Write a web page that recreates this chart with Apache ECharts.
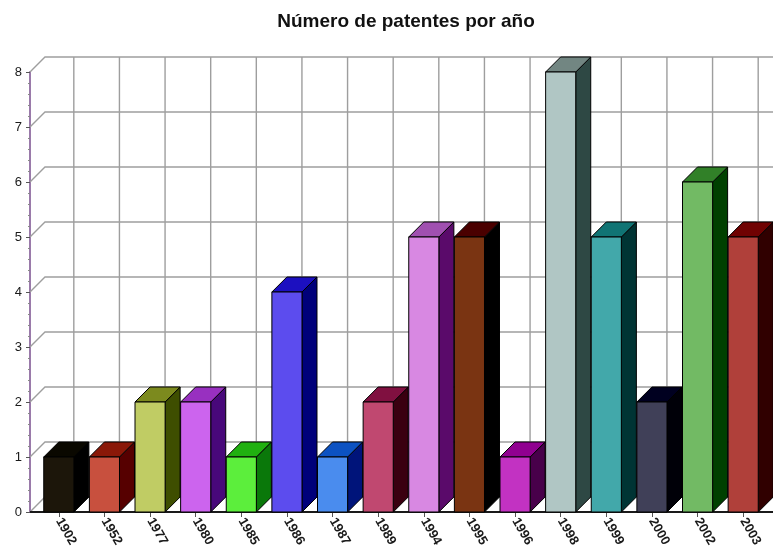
<!DOCTYPE html>
<html>
<head>
<meta charset="utf-8">
<script src="https://cdn.jsdelivr.net/npm/echarts@6/dist/echarts.min.js"></script>
<style>
  html, body { margin: 0; padding: 0; background: #ffffff; }
  #chart { width: 773px; height: 553px; }
</style>
</head>
<body>
<div id="chart"></div>
<script>
// Patent counts per year
const years = ['1902', '1952', '1977', '1980', '1985', '1986', '1987', '1989',
               '1994', '1995', '1996', '1998', '1999', '2000', '2002', '2003'];
const patents = [1, 1, 2, 2, 1, 4, 1, 2, 5, 5, 1, 8, 5, 2, 6, 5];
const yTicks = [0, 1, 2, 3, 4, 5, 6, 7, 8];

// Per-bar shading: front face, top face, right side face
const frontColors = ['#1c160a', '#c8503e', '#c0cc64', '#cc64ee', '#5cee3c', '#5c4cee', '#4a8cee', '#c04870',
                     '#d888e2', '#7a3412', '#c232c2', '#b0c6c4', '#42a8aa', '#404058', '#72ba64', '#b0403a'];
const topColors   = ['#0a0800', '#8a1808', '#7c8a1e', '#9830c0', '#20b010', '#1c10c0', '#0c52c2', '#801040',
                     '#a050b0', '#4a0000', '#900090', '#728682', '#107474', '#000020', '#318028', '#700202'];
const sideColors  = ['#000000', '#560000', '#3e4e00', '#48087a', '#0a780a', '#00007a', '#00147a', '#3a0010',
                     '#5a0a6a', '#000000', '#48004a', '#2e4844', '#003434', '#000008', '#004000', '#300000'];

const DEPTH = 15;        // oblique depth offset in px
const BAR_RATIO = 0.66;  // bar front width relative to the category band
const AXIS_SHIFT = 6;    // y axis sits this far left of the grid

const chart = echarts.init(document.getElementById('chart'), null, { renderer: 'canvas' });

// Back wall, left wall and floor of the pseudo-3D box
function renderFrame(params, api) {
  const cs = params.coordSys;
  const gridColor = '#9e9e9e';
  const ax = cs.x - AXIS_SHIFT;
  const right = chart.getWidth();
  const children = [];
  const yBase = api.coord([0, yTicks[0]])[1];
  const yTop = api.coord([0, yTicks[yTicks.length - 1]])[1];
  // floor (white)
  children.push({
    type: 'polygon',
    shape: { points: [[ax, yBase], [right, yBase], [right, yBase - DEPTH], [ax + DEPTH, yBase - DEPTH]] },
    style: { fill: '#ffffff', stroke: null }
  });
  yTicks.forEach(function (t) {
    const y = api.coord([0, t])[1];
    children.push({
      type: 'polyline',
      shape: { points: [[ax, y], [ax + DEPTH, y - DEPTH], [right, y - DEPTH]] },
      style: { stroke: gridColor, lineWidth: 1.4, fill: null }
    });
  });
  years.forEach(function (_, i) {
    const x = api.coord([i, 0])[0] + DEPTH;
    children.push({
      type: 'line',
      shape: { x1: x, y1: yBase - DEPTH, x2: x, y2: yTop - DEPTH },
      style: { stroke: gridColor, lineWidth: 1.4 }
    });
  });
  // front edge of the floor
  children.push({
    type: 'line',
    shape: { x1: ax, y1: yBase, x2: right, y2: yBase },
    style: { stroke: '#1a1a1a', lineWidth: 2 },
    z2: 50
  });
  return { type: 'group', children: children };
}

function renderBar(params, api) {
  const i = api.value(0);
  const v = api.value(1);
  const top = api.coord([i, v]);
  const base = api.coord([i, 0]);
  const band = api.size([1, 0])[0];
  const w = band * BAR_RATIO;
  const x0 = top[0] - w / 2;
  const x1 = x0 + w;
  const yt = top[1];
  const yb = base[1];
  const d = DEPTH;
  const edge = { stroke: '#000000', lineWidth: 1 };
  return {
    type: 'group',
    children: [
      {
        type: 'polygon',
        shape: { points: [[x1, yt], [x1 + d, yt - d], [x1 + d, yb - d], [x1, yb]] },
        style: Object.assign({ fill: sideColors[i] }, edge)
      },
      {
        type: 'polygon',
        shape: { points: [[x0, yt], [x1, yt], [x1 + d, yt - d], [x0 + d, yt - d]] },
        style: Object.assign({ fill: topColors[i] }, edge)
      },
      {
        type: 'rect',
        shape: { x: x0, y: yt, width: w, height: yb - yt },
        style: Object.assign({ fill: frontColors[i] }, edge)
      }
    ]
  };
}

chart.setOption({
  backgroundColor: '#ffffff',
  animation: false,
  title: {
    text: 'Número de patentes por año',
    left: 401,
    textAlign: 'center',
    top: 7,
    textStyle: { fontFamily: 'Liberation Sans', fontWeight: 'bold', fontSize: 19, color: '#111111' }
  },
  grid: { left: 36, right: 7, top: 72, bottom: 41, containLabel: false },
  xAxis: {
    type: 'category',
    data: years,
    boundaryGap: true,
    axisLine: { show: false },
    axisTick: { show: true, alignWithLabel: true, length: 5, lineStyle: { color: '#555555' } },
    axisLabel: {
      rotate: -60,
      margin: 7,
      fontFamily: 'Liberation Sans',
      fontSize: 13,
      fontWeight: 'bold',
      color: '#1a1a1a'
    },
    splitLine: { show: false }
  },
  yAxis: {
    type: 'value',
    min: 0,
    max: 8,
    interval: 1,
    offset: AXIS_SHIFT,
    axisLine: { show: true, lineStyle: { color: '#9a7aaa', width: 2 } },
    axisTick: { show: true, length: 4, lineStyle: { color: '#555555' } },
    minorTick: { show: true, splitNumber: 5, length: 2, lineStyle: { color: '#888888' } },
    axisLabel: { fontFamily: 'Liberation Sans', fontSize: 13, color: '#1a1a1a', margin: 8 },
    splitLine: { show: false }
  },
  series: [
    {
      type: 'custom',
      renderItem: renderFrame,
      data: [[0, 0]],
      z: 1,
      silent: true
    },
    {
      type: 'custom',
      renderItem: renderBar,
      data: patents.map(function (v, i) { return [i, v]; }),
      encode: { x: 0, y: 1 },
      z: 2
    }
  ]
});
</script>
</body>
</html>
